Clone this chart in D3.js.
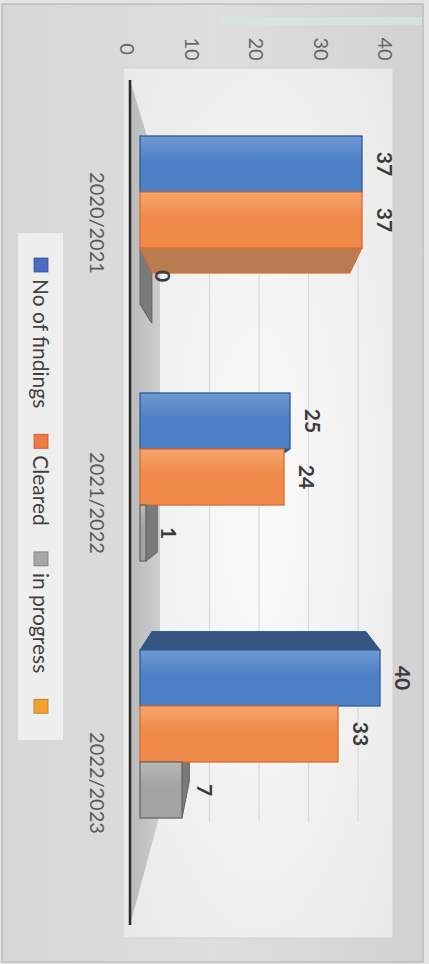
<!DOCTYPE html>
<html>
<head>
<meta charset="utf-8">
<script src="https://cdn.jsdelivr.net/npm/d3@7"></script>
<style>
  html, body { margin: 0; padding: 0; background: #e4e4e4; }
  svg { display: block; }
</style>
</head>
<body>
<svg id="chart" width="429" height="964"></svg>
<script>
// ---------------- DATA ----------------
const categories = ["2020/2021", "2021/2022", "2022/2023"];
const seriesNames = ["No of findings", "Cleared", "in progress"];
const noOfFindings = [37, 25, 40];
const cleared = [37, 24, 33];
const inProgress = [0, 1, 7];
const tickValues = [0, 10, 20, 30, 40];
const legendNames = ["No of findings", "Cleared", "in progress", ""];

// ---------------- STYLE ----------------
const colors = {
  "No of findings": { front: "#4d80c4", stroke: "#2d5a98", side: "#34557f", light: "#6f9ad2" },
  "Cleared":        { front: "#f08a4a", stroke: "#dd6a2c", side: "#b97b4f", light: "#f6a56c" },
  "in progress":    { front: "#a3a3a3", stroke: "#666666", side: "#7a7a7a", light: "#b8b8b8" }
};
const legendColors = ["#4a6cc0", "#f07a42", "#a6a6a6", "#f4a030"];
const FONT = "Lato, 'Liberation Sans', Arial, sans-serif";

const svg = d3.select("#chart");
const defs = svg.append("defs");

// background gradients
const bgGrad = defs.append("linearGradient").attr("id", "bgGrad").attr("x1", 0).attr("x2", 1).attr("y1", 0).attr("y2", 0);
bgGrad.append("stop").attr("offset", "0%").attr("stop-color", "#d6d6d6");
bgGrad.append("stop").attr("offset", "50%").attr("stop-color", "#dedede");
bgGrad.append("stop").attr("offset", "100%").attr("stop-color", "#d2d2d2");

const wallGrad = defs.append("radialGradient").attr("id", "wallGrad").attr("cx", "50%").attr("cy", "50%").attr("r", "70%");
wallGrad.append("stop").attr("offset", "0%").attr("stop-color", "#fbfbfb");
wallGrad.append("stop").attr("offset", "100%").attr("stop-color", "#e9e9e9");

const floorGrad = defs.append("linearGradient").attr("id", "floorGrad").attr("x1", 0).attr("x2", 1).attr("y1", 0).attr("y2", 0);
floorGrad.append("stop").attr("offset", "0%").attr("stop-color", "#b9b9b9");
floorGrad.append("stop").attr("offset", "100%").attr("stop-color", "#cdcdcd");

seriesNames.forEach((s, i) => {
  const g = defs.append("linearGradient").attr("id", "barGrad" + i).attr("x1", 0).attr("x2", 0).attr("y1", 0).attr("y2", 1);
  g.append("stop").attr("offset", "0%").attr("stop-color", colors[s].light);
  g.append("stop").attr("offset", "45%").attr("stop-color", colors[s].front);
  g.append("stop").attr("offset", "100%").attr("stop-color", colors[s].front);
});

// outer frame
svg.append("rect").attr("x", 2).attr("y", 4).attr("width", 421).attr("height", 958)
  .attr("fill", "url(#bgGrad)").attr("stroke", "#bdbdbd").attr("stroke-width", 1.5);
// faint scan band at top
svg.append("rect").attr("x", 222).attr("y", 17).attr("width", 200).attr("height", 8)
  .attr("fill", "#d3e6de").attr("opacity", 0.8);

// plot area (back wall region)
svg.append("rect").attr("x", 123).attr("y", 68).attr("width", 270).attr("height", 870)
  .attr("fill", "url(#wallGrad)").attr("stroke", "#d0d0d0").attr("stroke-width", 1);

// ---------------- SCALES ----------------
// axis tick label scale (front plane)
const xAxisScale = d3.scaleLinear().domain([0, 40]).range([128, 386]);
// bar scale (front faces)
const xBar = d3.scaleLinear().domain([0, 40]).range([140, 380]);
// back wall scale (gridlines)
const xBack = d3.scaleLinear().domain([0, 40]).range([160, 358]);

const yCat = d3.scaleBand().domain(categories).range([136, 818]).paddingInner(0.346).paddingOuter(0);
const ySer = d3.scaleBand().domain(seriesNames).range([0, yCat.bandwidth()]);
const yCatLabel = d3.scalePoint().domain(categories).range([223, 783]);

const VP = [250, 480];
const K = 0.108;
const back = p => [p[0] + K * (VP[0] - p[0]), p[1] + K * (VP[1] - p[1])];

// ---------------- FLOOR & GRID ----------------
const K2 = 0.25;
const axisTop = 80, axisBottom = 925, axisX = 130;
const fTop = [axisX + K2 * (VP[0] - axisX), axisTop + K2 * (VP[1] - axisTop)];
const fBot = [axisX + K2 * (VP[0] - axisX), axisBottom + K2 * (VP[1] - axisBottom)];
svg.append("polygon")
  .attr("points", [[axisX, axisTop], fTop, fBot, [axisX, axisBottom]].map(p => p.join(",")).join(" "))
  .attr("fill", "url(#floorGrad)");

svg.append("g").selectAll("line").data(tickValues.filter(v => v > 0)).join("line")
  .attr("x1", d => xBack(d)).attr("x2", d => xBack(d))
  .attr("y1", fTop[1] - 30).attr("y2", fBot[1] + 8)
  .attr("stroke", "#d9d9d9").attr("stroke-width", 1.2);

// ---------------- AXES ----------------
svg.append("line").attr("x1", axisX).attr("x2", axisX).attr("y1", axisTop).attr("y2", axisBottom)
  .attr("stroke", "#2a2a2a").attr("stroke-width", 2.5);

svg.append("g").selectAll("text").data(tickValues).join("text")
  .attr("transform", d => `translate(${xAxisScale(d)},49) rotate(90)`)
  .attr("text-anchor", "middle").attr("dominant-baseline", "central")
  .attr("font-family", FONT).attr("font-size", 20).attr("fill", "#666")
  .text(d => d);

svg.append("g").selectAll("text").data(categories).join("text")
  .attr("transform", d => `translate(98,${yCatLabel(d)}) rotate(90)`)
  .attr("text-anchor", "middle").attr("dominant-baseline", "central")
  .attr("font-family", FONT).attr("font-size", 20).attr("fill", "#595959")
  .text(d => d);

// ---------------- BARS ----------------
const seriesValues = [noOfFindings, cleared, inProgress];
const bars = [];
categories.forEach((c, ci) => {
  seriesNames.forEach((s, si) => {
    const v = seriesValues[si][ci];
    const x0 = xBar(0), x1 = xBar(v);
    const y0 = yCat(c) + ySer(s), y1 = y0 + ySer.bandwidth();
    bars.push({ c, s, si, v, x0, x1, y0, y1 });
  });
});

const poly = pts => pts.map(p => p.join(",")).join(" ");
const faces = [];
bars.forEach(b => {
  const A = [b.x0, b.y0], B = [b.x1, b.y0], C = [b.x1, b.y1], D = [b.x0, b.y1];
  if (VP[1] < b.y0) faces.push({ b, pts: [A, B, back(B), back(A)] });
  if (VP[1] > b.y1) faces.push({ b, pts: [D, C, back(C), back(D)] });
  if (VP[0] > b.x1) faces.push({ b, pts: [B, C, back(C), back(B)] });
});
// draw grey faces first, then orange, then blue
faces.sort((a, b) => b.b.si - a.b.si);
svg.append("g").selectAll("polygon").data(faces).join("polygon")
  .attr("points", d => poly(d.pts))
  .attr("fill", d => colors[d.b.s].side)
  .attr("stroke", d => colors[d.b.s].stroke).attr("stroke-width", 1)
  .attr("stroke-linejoin", "round");

svg.append("g").selectAll("rect").data(bars.filter(b => b.v > 0)).join("rect")
  .attr("x", d => d.x0).attr("y", d => d.y0)
  .attr("width", d => d.x1 - d.x0).attr("height", d => d.y1 - d.y0)
  .attr("fill", d => `url(#barGrad${d.si})`)
  .attr("stroke", d => colors[d.s].stroke).attr("stroke-width", 1.3);

// value labels
svg.append("g").selectAll("text").data(bars).join("text")
  .attr("transform", d => `translate(${d.x1 + 23},${(d.y0 + d.y1) / 2}) rotate(90)`)
  .attr("text-anchor", "middle").attr("dominant-baseline", "central")
  .attr("font-family", FONT).attr("font-size", 21).attr("font-weight", "bold").attr("fill", "#3a3a3a")
  .text(d => d.v);

// ---------------- LEGEND ----------------
svg.append("rect").attr("x", 18).attr("y", 233).attr("width", 45).attr("height", 507)
  .attr("fill", "#f1f1f1").attr("opacity", 0.9);

const legend = svg.append("g");
let cursor = 258;
legendNames.forEach((name, i) => {
  legend.append("rect").attr("x", 34).attr("y", cursor).attr("width", 14).attr("height", 14)
    .attr("fill", legendColors[i]).attr("stroke", d3.color(legendColors[i]).darker(0.8)).attr("stroke-width", 0.8);
  cursor += 21;
  if (name) {
    const t = legend.append("text")
      .attr("transform", `translate(41,${cursor}) rotate(90)`)
      .attr("text-anchor", "start").attr("dominant-baseline", "central")
      .attr("font-family", FONT).attr("font-size", 21).attr("fill", "#404040")
      .text(name);
    cursor += t.node().getComputedTextLength() + 26;
  }
});
</script>
</body>
</html>
